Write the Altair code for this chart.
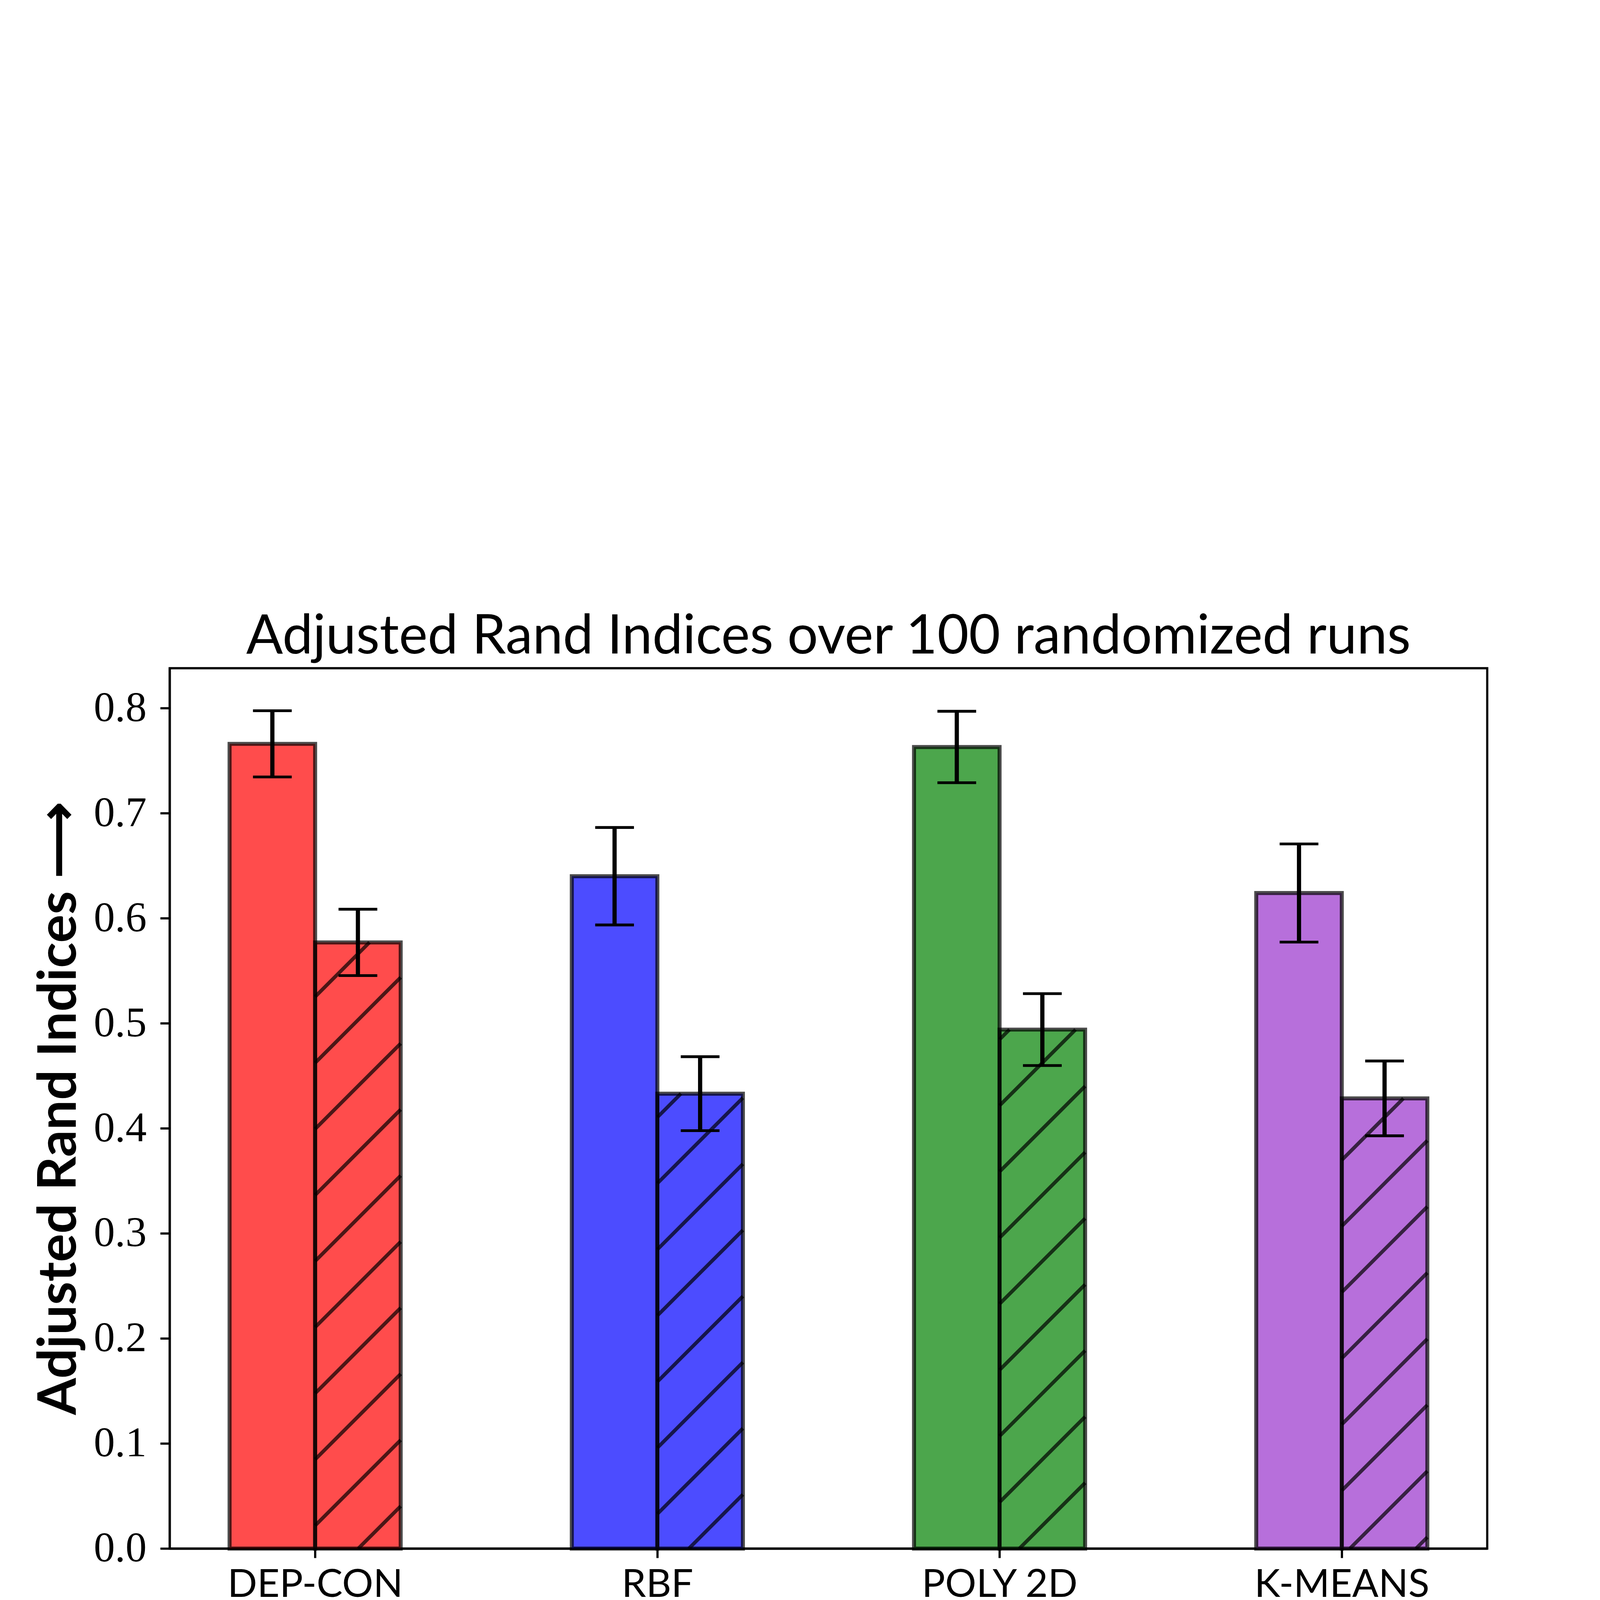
import json
import altair as alt
import pandas as pd

# ---------------- data ----------------
algorithms = ["DEP-CON", "RBF", "POLY 2D", "K-MEANS"]
bar_colors = ["red", "blue", "green", "darkorchid"]
linear_means = [0.766, 0.640, 0.763, 0.624]
linear_errors = [0.0315, 0.0464, 0.034, 0.0467]
nonlinear_means = [0.577, 0.433, 0.494, 0.4285]
nonlinear_errors = [0.0316, 0.0352, 0.0342, 0.0356]
datasets = ["Linear data set", "Nonlinear data set"]
y_ticks = [0.0, 0.1, 0.2, 0.3, 0.4, 0.5, 0.6, 0.7, 0.8]
x_ticks = [0, 1, 2, 3]

# ---------------- layout / style constants ----------------
W, H = 6597, 4408
BAR_W = 0.25
XMIN, XMAX = -0.425, 3.425
YMAX = 0.838
HATCH_PX = 331                 # vertical spacing of hatch lines in pixels
HATCH_ANCHOR = (2.0, 0.2958)   # one hatch line passes through this data point
SANS = "Lato"
SERIF = "Liberation Serif"

rows = []
for i, alg in enumerate(algorithms):
    for j, (ds, means, errs) in enumerate(
        [(datasets[0], linear_means, linear_errors),
         (datasets[1], nonlinear_means, nonlinear_errors)]
    ):
        x0 = i - BAR_W + j * BAR_W
        rows.append(dict(alg=alg, dataset=ds, x0=x0, x1=x0 + BAR_W,
                         xc=x0 + BAR_W / 2, mean=means[i], base=0.0,
                         lo=means[i] - errs[i], hi=means[i] + errs[i],
                         color=bar_colors[i]))
df = pd.DataFrame(rows)

# hatch '/' lines (45 degrees on screen) clipped to the nonlinear bars
px_x = W / (XMAX - XMIN)
px_y = H / YMAX
slope = px_x / px_y
spacing = HATCH_PX / px_y
b0 = HATCH_ANCHOR[1] - slope * HATCH_ANCHOR[0]
hatch = []
for r in rows:
    if r["dataset"] != datasets[1]:
        continue
    xa, xb, h = r["x0"], r["x1"], r["mean"]
    for k in range(-300, 300):
        b = b0 + k * spacing
        xl = max(xa, (0 - b) / slope)
        xr = min(xb, (h - b) / slope)
        if xr > xl + 1e-9:
            hatch.append(dict(hx0=xl, hy0=slope * xl + b, hx1=xr, hy1=slope * xr + b))
hdf = pd.DataFrame(hatch)

xscale = alt.Scale(domain=[XMIN, XMAX], nice=False, zero=False)
yscale = alt.Scale(domain=[0, YMAX], nice=False)
xaxis = alt.Axis(values=x_ticks, labelExpr=json.dumps(algorithms) + "[datum.value]",
                 title="Clustering Algorithms \u27f6", grid=False,
                 tickSize=47, labelPadding=41, labelFont=SANS, labelFontSize=195,
                 labelColor="black", labelLimit=3000, labelAngle=0,
                 titleFont=SANS, titleFontSize=242, titleFontWeight="bold",
                 titleColor="black", titleLimit=8000,
                 titleX=W / 2, titleY=510, titleBaseline="alphabetic",
                 titleAlign="center")
yaxis = alt.Axis(values=y_ticks, format=".1f", title="Adjusted Rand Indices \u27f6",
                 grid=False, tickSize=47, labelPadding=69, labelFont=SERIF,
                 labelFontSize=212, labelColor="black", labelLimit=3000,
                 titleFont=SANS, titleFontSize=266, titleFontWeight="bold",
                 titleColor="black", titleLimit=8000,
                 titleX=-470, titleY=H / 2, titleAngle=270,
                 titleBaseline="alphabetic", titleAlign="center")

base = alt.Chart(df)

bars = base.mark_rect(fillOpacity=0.7, strokeWidth=0).encode(
    x=alt.X("x0:Q", scale=xscale, axis=xaxis),
    x2="x1:Q",
    y=alt.Y("mean:Q", scale=yscale, axis=yaxis),
    y2="base:Q",
    fill=alt.Fill("color:N", scale=None),
)

hatch_layer = alt.Chart(hdf).mark_rule(color="black", opacity=0.7, strokeWidth=18).encode(
    x=alt.X("hx0:Q", scale=xscale, axis=xaxis),
    x2="hx1:Q",
    y=alt.Y("hy0:Q", scale=yscale, axis=yaxis),
    y2="hy1:Q",
)

outline = base.mark_rect(fill="white", fillOpacity=0, stroke="black",
                         strokeOpacity=0.7, strokeWidth=20).encode(
    x=alt.X("x0:Q", scale=xscale, axis=xaxis),
    x2="x1:Q",
    y=alt.Y("mean:Q", scale=yscale, axis=yaxis),
    y2="base:Q",
)

err_rule = base.mark_rule(color="black", strokeWidth=21).encode(
    x=alt.X("xc:Q", scale=xscale, axis=xaxis),
    y=alt.Y("lo:Q", scale=yscale, axis=yaxis),
    y2="hi:Q",
)
cap_lo = base.mark_tick(orient="horizontal", size=194, thickness=14,
                        color="black", opacity=1).encode(
    x=alt.X("xc:Q", scale=xscale, axis=xaxis),
    y=alt.Y("lo:Q", scale=yscale, axis=yaxis),
)
cap_hi = base.mark_tick(orient="horizontal", size=194, thickness=14,
                        color="black", opacity=1).encode(
    x=alt.X("xc:Q", scale=xscale, axis=xaxis),
    y=alt.Y("hi:Q", scale=yscale, axis=yaxis),
)

# legend symbols (custom paths) carried by an invisible point layer
sym_lin = "M-0.686,-1H5.471V1H-0.686Z"
sym_non = ("M-0.686,-1H5.471V1H-0.686Z"
           "M3.0,1L5.1,-1M-0.686,-0.6L-0.3,-1")
legend = alt.Legend(title=None, orient="none", legendX=641, legendY=5048,
                    direction="horizontal", columns=2, columnPadding=420,
                    symbolSize=19600, symbolStrokeColor="black",
                    symbolStrokeWidth=18, symbolOpacity=1,
                    labelOffset=446, labelFont=SANS, labelFontSize=205,
                    labelFontWeight="bold", labelColor="black", labelLimit=5000,
                    padding=51, strokeColor="#d6d6d6", fillColor="white",
                    cornerRadius=40)
legend_layer = base.mark_point(filled=True, opacity=0, stroke="black",
                               strokeWidth=18).encode(
    x=alt.X("xc:Q", scale=xscale, axis=xaxis),
    y=alt.Y("mean:Q", scale=yscale, axis=yaxis),
    shape=alt.Shape("dataset:N", scale=alt.Scale(domain=datasets, range=[sym_lin, sym_non]),
                    legend=legend),
    fill=alt.Fill("dataset:N", scale=alt.Scale(domain=datasets, range=["black", "white"]),
                  legend=legend),
)

chart = alt.layer(bars, hatch_layer, outline, err_rule, cap_lo, cap_hi, legend_layer).properties(
    width=W, height=H,
    title=alt.TitleParams("Adjusted Rand Indices over 100 randomized runs",
                          font=SANS, fontSize=272, fontWeight="normal",
                          color="black", offset=17, anchor="middle", limit=8000),
    padding={"left": 834, "top": 472, "right": 549, "bottom": 1100},
    autosize=alt.AutoSizeParams(type="none"),
    background="white",
).configure_view(
    stroke="black", strokeWidth=11, fill="white"
).configure_axis(
    domainColor="black", domainWidth=11, tickColor="black", tickWidth=11
).configure_legend(
    strokeWidth=14
)

chart.save("out.html", embed_options={"renderer": "svg", "actions": False})
